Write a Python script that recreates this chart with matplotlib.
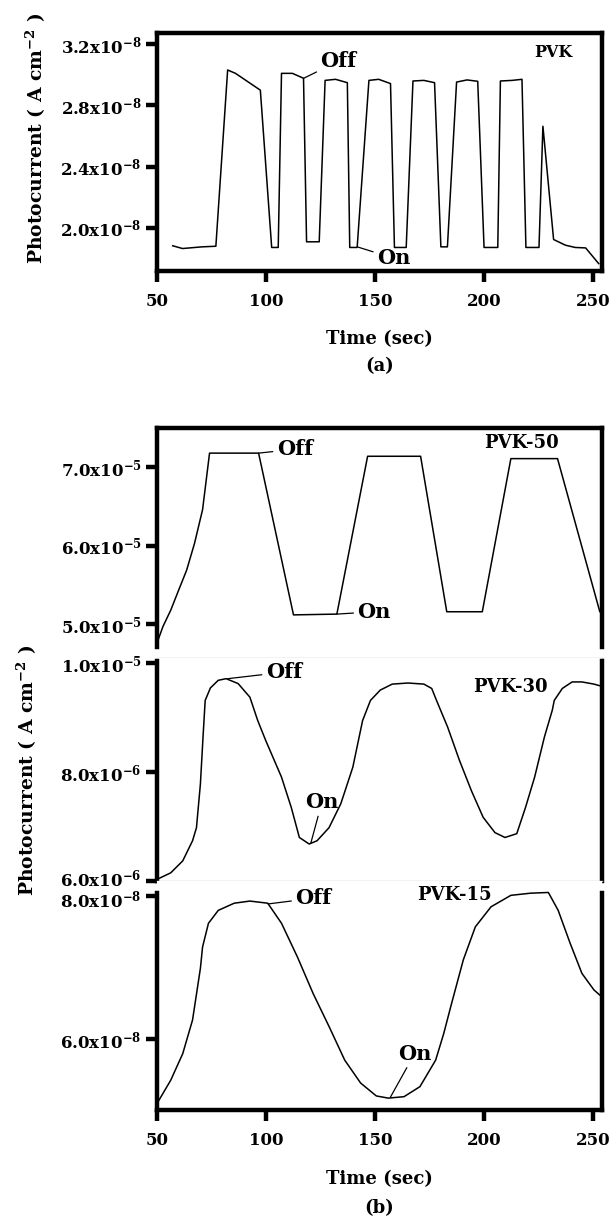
import matplotlib
matplotlib.use("Agg")
import matplotlib.pyplot as plt
import matplotlib.transforms as mtransforms
import numpy as np

plt.rcParams['font.family'] = ['DejaVu Serif']
plt.rcParams['font.weight'] = 'bold'
plt.rcParams['mathtext.fontset'] = 'dejavuserif'
plt.rcParams['mathtext.default'] = 'bf'

# ---------------- data ----------------
# (a) PVK, photocurrent in units of 1e-8 A cm^-2
pvk_t = [57.2, 61.7, 70.7, 77.0, 82.4, 86.0, 97.4, 102.6, 105.6, 107.1, 112.1, 117.2,
         118.6, 124.4, 127.1, 131.9, 137.3, 138.4, 141.8, 147.2, 151.7, 157.1, 158.9,
         164.3, 167.4, 172.4, 177.3, 180.2, 183.2, 187.4, 192.2, 197.1, 200.0, 206.3,
         207.5, 212.9, 217.4, 219.2, 225.2, 227.0, 231.9, 237.3, 241.8, 246.6, 252.6]
pvk_i = [1.882, 1.864, 1.875, 1.879, 3.032, 3.010, 2.900, 1.871, 1.871, 3.010, 3.010, 2.978,
         1.908, 1.908, 2.964, 2.971, 2.949, 1.871, 1.871, 2.964, 2.971, 2.943, 1.871,
         1.871, 2.960, 2.964, 2.949, 1.875, 1.875, 2.953, 2.967, 2.958, 1.871, 1.871,
         2.960, 2.964, 2.971, 1.871, 1.871, 2.664, 1.923, 1.886, 1.871, 1.868, 1.765]

# (b) PVK-50, units of 1e-5
pvk50_t = [50.5, 52.7, 56.3, 60.0, 63.6, 67.2, 70.9, 74.1, 96.6, 112.6, 132.5, 146.6,
           170.9, 182.9, 199.2, 212.3, 233.7, 253.1, 254.9]
pvk50_i = [4.80, 4.97, 5.18, 5.44, 5.69, 6.03, 6.46, 7.18, 7.18, 5.12, 5.13, 7.14,
           7.14, 5.16, 5.16, 7.11, 7.11, 5.16, 5.13]

# (b) PVK-30, units of 1e-6
pvk30_t = [50.0, 56.3, 61.8, 66.3, 68.1, 69.9, 71.2, 72.1, 74.5, 78.1, 81.7, 87.2, 92.6,
           96.2, 99.9, 107.1, 111.6, 115.3, 119.8, 123.4, 128.9, 134.3, 139.8, 144.3,
           147.9, 152.4, 157.9, 165.1, 172.4, 176.0, 178.2, 183.3, 188.7, 194.2, 199.6,
           205.0, 209.6, 215.0, 219.0, 223.2, 227.7, 231.3, 232.2, 235.9, 240.4, 244.9,
           250.4, 254.9]
pvk30_i = [6.03, 6.15, 6.37, 6.74, 6.98, 7.78, 8.71, 9.32, 9.55, 9.69, 9.72, 9.63, 9.38,
           8.95, 8.58, 7.91, 7.35, 6.80, 6.68, 6.74, 6.98, 7.42, 8.09, 8.95,
           9.32, 9.51, 9.62, 9.64, 9.62, 9.54, 9.32, 8.83, 8.22, 7.66, 7.17,
           6.89, 6.80, 6.87, 7.35, 7.91, 8.65, 9.14, 9.32, 9.54, 9.66, 9.66,
           9.62, 9.57]

# (b) PVK-15, units of 1e-8
pvk15_t = [50.5, 56.3, 61.8, 66.3, 69.9, 70.9, 73.6, 78.1, 85.4, 92.6, 100.8, 107.1,
           114.4, 121.6, 128.9, 136.1, 143.4, 150.6, 156.1, 163.3, 170.6, 177.8, 181.5,
           185.1, 190.5, 196.0, 203.2, 212.3, 221.4, 229.5, 234.0, 239.5, 244.9, 250.4,
           254.9]
pvk15_i = [5.13, 5.43, 5.80, 6.27, 6.99, 7.29, 7.62, 7.80, 7.90, 7.93, 7.90, 7.62,
           7.15, 6.64, 6.18, 5.71, 5.39, 5.21, 5.18, 5.20, 5.34, 5.71, 6.08,
           6.50, 7.11, 7.57, 7.85, 8.01, 8.04, 8.05, 7.80, 7.34, 6.92, 6.69,
           6.57]

x_ticks = [50, 100, 150, 200, 250]
a_yticks = [2.0, 2.4, 2.8, 3.2]
a_ylabels = [r"2.0x10$^{-8}$", r"2.4x10$^{-8}$", r"2.8x10$^{-8}$", r"3.2x10$^{-8}$"]
b50_yticks = [5.0, 6.0, 7.0]
b50_ylabels = [r"5.0x10$^{-5}$", r"6.0x10$^{-5}$", r"7.0x10$^{-5}$"]
b30_yticks = [6.0, 8.0, 10.0]
b30_ylabels = [r"6.0x10$^{-6}$", r"8.0x10$^{-6}$", r"1.0x10$^{-5}$"]
b15_yticks = [6.0, 8.0]
b15_ylabels = [r"6.0x10$^{-8}$", r"8.0x10$^{-8}$"]

# ---------------- figure ----------------
W, H = 613, 1222
fig = plt.figure(figsize=(W / 100, H / 100), dpi=100)

def rect(l, t, r, b):
    return [l / W, 1 - b / H, (r - l) / W, (b - t) / H]

SPW = 3.2
TICKFS = 12
LBLFS = 13
YLBLFS = 13.5
ANFS = 15
LW = 1.1

def style(ax):
    ax.tick_params(direction='out', width=SPW, length=8, labelsize=TICKFS, pad=3)
    ax.tick_params(axis='x', pad=8)
    for s in ax.spines.values():
        s.set_linewidth(SPW)
    for lab in ax.get_xticklabels() + ax.get_yticklabels():
        lab.set_fontweight('bold')

def leader(ax, text, xy, xytext, fs=ANFS):
    ax.annotate(text, xy=xy, xytext=xytext, fontsize=fs, fontweight='bold',
                ha='left', va='center',
                arrowprops=dict(arrowstyle='-', lw=0.9, color='black', shrinkA=1, shrinkB=0))

XLIM = (50, 254.1)
XC = 157 / W + (602 - 157) / W / 2

# ---- panel (a) ----
axa = fig.add_axes(rect(157, 33, 602, 271))
axa.plot(pvk_t, pvk_i, color='black', lw=LW)
axa.set_xlim(*XLIM)
axa.set_ylim(1.717, 3.274)
axa.set_xticks(x_ticks)
axa.set_yticks(a_yticks)
axa.set_yticklabels(a_ylabels)
style(axa)
leader(axa, "Off", (117.3, 2.978), (125.0, 3.09))
leader(axa, "On", (142.3, 1.873), (151.0, 1.80))
axa.text(231.7, 3.146, "PVK", fontsize=11.5, fontweight='bold', ha='center', va='center')

fig.text(XC, 1 - 339 / H, "Time (sec)", fontsize=LBLFS, fontweight='bold',
         ha='center', va='center')
fig.text(XC, 1 - 366 / H, "(a)", fontsize=LBLFS, fontweight='bold',
         ha='center', va='center')
fig.text(36 / W, 1 - 138 / H, r"Photocurrent ( A cm$^{-2}$ )", fontsize=YLBLFS,
         fontweight='bold', rotation=90, ha='center', va='center')

# ---- panel (b) ----
GRAY = '#c0c0c0'

ax1 = fig.add_axes(rect(157, 428, 602, 658))
ax1.plot(pvk50_t, pvk50_i, color='black', lw=LW)
ax1.set_xlim(*XLIM)
ax1.set_ylim(4.571, 7.50)
ax1.set_yticks(b50_yticks)
ax1.set_yticklabels(b50_ylabels)
style(ax1)
ax1.tick_params(axis='x', bottom=False, labelbottom=False)
ax1.spines['bottom'].set_linewidth(1.0)
ax1.spines['bottom'].set_color(GRAY)
ax1.spines['left'].set_bounds(4.71, 7.50)
ax1.spines['right'].set_bounds(4.71, 7.50)
leader(ax1, "Off", (96.6, 7.18), (105.0, 7.23))
leader(ax1, "On", (132.5, 5.13), (142.0, 5.16))
ax1.text(217.0, 7.31, "PVK-50", fontsize=13, fontweight='bold', ha='center', va='center')

ax2 = fig.add_axes(rect(157, 658, 602, 881))
ax2.plot(pvk30_t, pvk30_i, color='black', lw=LW)
ax2.set_xlim(*XLIM)
ax2.set_ylim(6.0, 10.10)
ax2.set_yticks(b30_yticks)
ax2.set_yticklabels(b30_ylabels)
style(ax2)
ax2.tick_params(axis='x', bottom=False, labelbottom=False)
ax2.spines['top'].set_visible(False)
ax2.spines['bottom'].set_linewidth(1.0)
ax2.spines['bottom'].set_color(GRAY)
ax2.spines['left'].set_bounds(6.0, 10.05)
ax2.spines['right'].set_bounds(6.0, 10.05)
leader(ax2, "Off", (82.5, 9.72), (100.0, 9.84))
leader(ax2, "On", (120.5, 6.69), (118.0, 7.45))
ax2.text(212.3, 9.57, "PVK-30", fontsize=13, fontweight='bold', ha='center', va='center')
# lift the bottom tick label slightly, as in the reference
ax2.get_yticklabels()[0].set_transform(
    ax2.get_yticklabels()[0].get_transform()
    + mtransforms.ScaledTranslation(0, 4 / 100, fig.dpi_scale_trans))

ax3 = fig.add_axes(rect(157, 881, 602, 1110))
ax3.plot(pvk15_t, pvk15_i, color='black', lw=LW)
ax3.set_xlim(*XLIM)
ax3.set_ylim(5.014, 8.21)
ax3.set_xticks(x_ticks)
ax3.set_yticks(b15_yticks)
ax3.set_yticklabels(b15_ylabels)
style(ax3)
ax3.spines['top'].set_visible(False)
ax3.spines['left'].set_bounds(5.014, 8.04)
ax3.spines['right'].set_bounds(5.014, 8.04)
leader(ax3, "Off", (101.0, 7.89), (113.5, 7.97))
leader(ax3, "On", (157.0, 5.19), (160.5, 5.80))
ax3.text(186.4, 8.01, "PVK-15", fontsize=13, fontweight='bold', ha='center', va='center')
ax3.get_yticklabels()[1].set_transform(
    ax3.get_yticklabels()[1].get_transform()
    + mtransforms.ScaledTranslation(0, -2 / 100, fig.dpi_scale_trans))

fig.text(XC, 1 - 1179 / H, "Time (sec)", fontsize=LBLFS, fontweight='bold',
         ha='center', va='center')
fig.text(XC, 1 - 1208 / H, "(b)", fontsize=LBLFS, fontweight='bold',
         ha='center', va='center')
fig.text(27 / W, 1 - 770 / H, r"Photocurrent ( A cm$^{-2}$ )", fontsize=YLBLFS,
         fontweight='bold', rotation=90, ha='center', va='center')

fig.savefig("out.png", dpi=100)
